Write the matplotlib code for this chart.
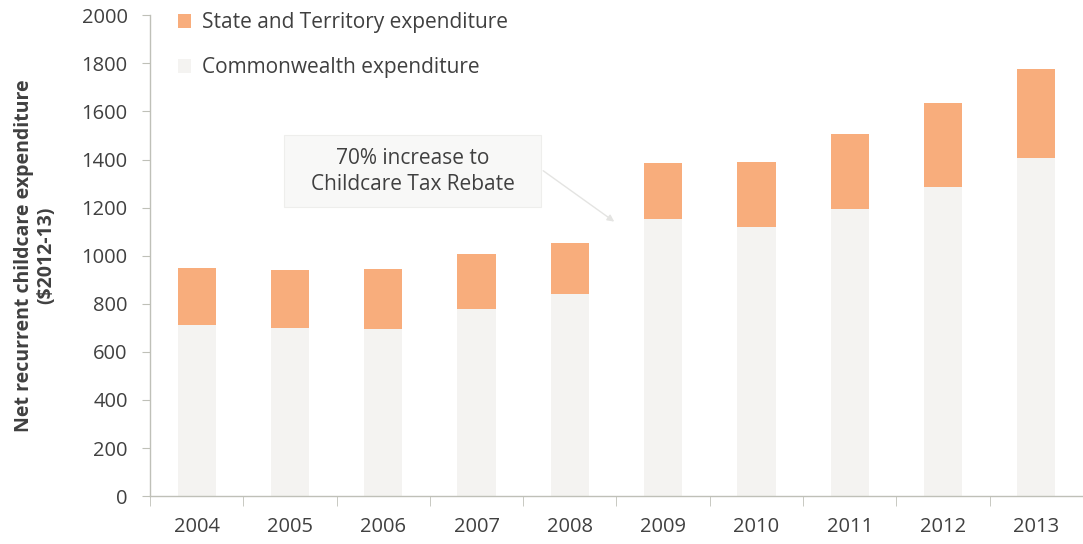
import matplotlib
matplotlib.use("Agg")
import matplotlib.pyplot as plt
from matplotlib.patches import Rectangle, Patch

years = ["2004", "2005", "2006", "2007", "2008", "2009", "2010", "2011", "2012", "2013"]
commonwealth = [711, 700, 696, 779, 841, 1153, 1119, 1195, 1286, 1407]
state_territory = [236, 241, 248, 230, 211, 233, 271, 309, 349, 370]
y_ticks = [0, 200, 400, 600, 800, 1000, 1200, 1400, 1600, 1800, 2000]

ORANGE = "#F8AD7C"
LIGHT = "#F4F3F1"
TEXT = "#404040"
AXIS = "#BFC0B8"

plt.rcParams["font.family"] = ["Open Sans", "DejaVu Sans"]

fig = plt.figure(figsize=(10.83, 5.44), dpi=100)
ax = fig.add_axes([0.1385, 0.088, 0.8615, 0.884])

x = list(range(len(years)))
width = 0.41
ax.bar(x, commonwealth, width, color=LIGHT, label="Commonwealth expenditure", zorder=2)
ax.bar(x, state_territory, width, bottom=commonwealth, color=ORANGE,
       label="State and Territory expenditure", zorder=2)

ax.set_xlim(-0.5, len(years) - 0.5)
ax.set_ylim(0, 2000)
ax.set_yticks(y_ticks)
ax.set_yticklabels([str(v) for v in y_ticks], fontsize=14.5, color=TEXT)
ax.set_xticks(x)
ax.set_xticklabels(years, fontsize=14.5, color=TEXT)
ax.tick_params(axis="x", length=0, pad=15)
ax.set_xticks([i + 0.5 for i in range(-1, len(years))], minor=True)
ax.tick_params(axis="x", which="minor", length=7, color=AXIS, direction="out")
ax.tick_params(axis="y", length=6, color=AXIS, pad=10)

for side in ("top", "right"):
    ax.spines[side].set_visible(False)
for side in ("left", "bottom"):
    ax.spines[side].set_color(AXIS)
    ax.spines[side].set_linewidth(1.0)

ax.set_ylabel("Net recurrent childcare expenditure\n($2012-13)", fontsize=14,
              fontweight="bold", color=TEXT, labelpad=18, linespacing=1.15)

handles = [Patch(facecolor=ORANGE, edgecolor="none"),
           Patch(facecolor=LIGHT, edgecolor="none")]
ax.legend(handles, ["State and Territory expenditure", "Commonwealth expenditure"],
          loc="upper left", bbox_to_anchor=(0.01, 1.045), frameon=False,
          fontsize=15, labelcolor=TEXT, handlelength=0.6, handleheight=0.6,
          handletextpad=0.55, labelspacing=1.15)

# Callout box with pointer towards 2009
ax.add_patch(Rectangle((0.94, 1202), 2.75, 299, facecolor="#F8F8F7",
                       edgecolor="#EEEEEC", linewidth=0.8, zorder=3))
ax.text(2.32, 1350, "70% increase to\nChildcare Tax Rebate", ha="center", va="center",
        fontsize=15, color=TEXT, linespacing=1.3, zorder=4)
ax.annotate("", xy=(4.5, 1135), xytext=(3.69, 1360),
            arrowprops=dict(arrowstyle="-|>", color="#E4E4E2", lw=1.0,
                            mutation_scale=10), zorder=3)

fig.savefig("out.png", dpi=100, facecolor="white")
